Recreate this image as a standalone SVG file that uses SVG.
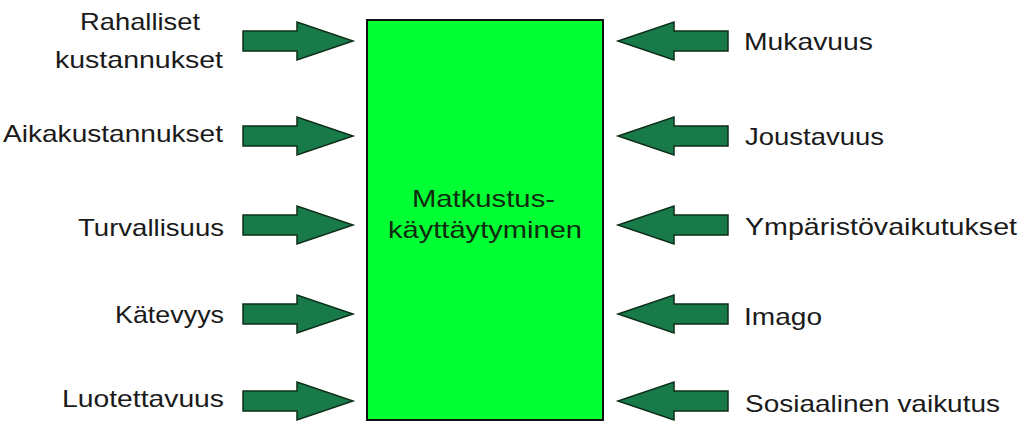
<svg xmlns="http://www.w3.org/2000/svg" width="1024" height="427" viewBox="0 0 1024 427">
<defs>
<style>
.lbl{font-family:"Liberation Sans",Arial,sans-serif;font-size:24px;fill:#1a1a1a}
.ctr{font-family:"Liberation Sans",Arial,sans-serif;font-size:24px;fill:#0f2a0f}
.arr{fill:#187a48;stroke:#0c2e18;stroke-width:1.5;stroke-linejoin:miter}
</style>
<path id="ra" d="M0,-10 L54,-10 L54,-19 L110,0 L54,19 L54,10 L0,10 Z"/>
<path id="la" d="M0,-10 L-54,-10 L-54,-19 L-110,0 L-54,19 L-54,10 L0,10 Z"/>
</defs>
<rect width="1024" height="427" fill="#ffffff"/>
<g id="center">
<rect x="367" y="20" width="236" height="400" fill="#00ff33" stroke="#111" stroke-width="2"/>
<text class="ctr" x="412" y="207" textLength="143" lengthAdjust="spacingAndGlyphs">Matkustus-</text>
<text class="ctr" x="388" y="238" textLength="194" lengthAdjust="spacingAndGlyphs">käyttäytyminen</text>
</g>
<g id="connectors">
<use href="#ra" class="arr" x="243" y="41"/>
<use href="#ra" class="arr" x="243" y="136"/>
<use href="#ra" class="arr" x="243" y="225"/>
<use href="#ra" class="arr" x="243" y="314"/>
<use href="#ra" class="arr" x="243" y="401"/>
<use href="#la" class="arr" x="728" y="41"/>
<use href="#la" class="arr" x="728" y="136"/>
<use href="#la" class="arr" x="728" y="225"/>
<use href="#la" class="arr" x="728" y="314"/>
<use href="#la" class="arr" x="728" y="401"/>
</g>
<g id="n-rahalliset">
<text class="lbl" x="80" y="30" textLength="120" lengthAdjust="spacingAndGlyphs">Rahalliset</text>
<text class="lbl" x="55" y="68" textLength="168" lengthAdjust="spacingAndGlyphs">kustannukset</text>
</g>
<g id="n-aika"><text class="lbl" x="3" y="142" textLength="220" lengthAdjust="spacingAndGlyphs">Aikakustannukset</text></g>
<g id="n-turva"><text class="lbl" x="78" y="236" textLength="146" lengthAdjust="spacingAndGlyphs">Turvallisuus</text></g>
<g id="n-kate"><text class="lbl" x="115" y="323" textLength="109" lengthAdjust="spacingAndGlyphs">Kätevyys</text></g>
<g id="n-luot"><text class="lbl" x="62" y="407" textLength="162" lengthAdjust="spacingAndGlyphs">Luotettavuus</text></g>
<g id="n-muka"><text class="lbl" x="744" y="50" textLength="129" lengthAdjust="spacingAndGlyphs">Mukavuus</text></g>
<g id="n-jous"><text class="lbl" x="745" y="145" textLength="139" lengthAdjust="spacingAndGlyphs">Joustavuus</text></g>
<g id="n-ymp"><text class="lbl" x="745" y="235" textLength="272" lengthAdjust="spacingAndGlyphs">Ympäristövaikutukset</text></g>
<g id="n-imago"><text class="lbl" x="744" y="325" textLength="78" lengthAdjust="spacingAndGlyphs">Imago</text></g>
<g id="n-sos"><text class="lbl" x="745" y="412" textLength="255" lengthAdjust="spacingAndGlyphs">Sosiaalinen vaikutus</text></g>
</svg>
